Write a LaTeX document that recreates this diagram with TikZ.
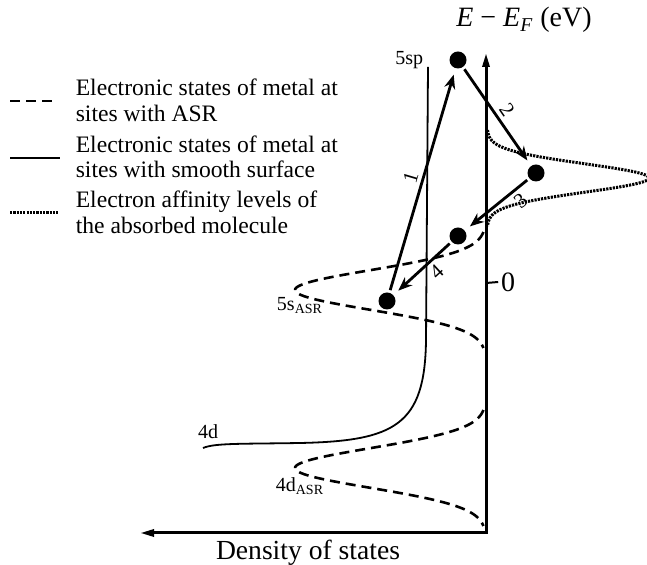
\documentclass[tikz,border=0pt]{standalone}
\usepackage{fontspec}
\setmainfont{Liberation Serif}
\usetikzlibrary{arrows.meta, positioning, calc}

\begin{document}
\begin{tikzpicture}[x=0.5pt, y=-0.5pt, >=Stealth, thick,
    dot/.style={circle, fill=black, inner sep=0pt, minimum size=8.5pt},
    trans/.style={->, line width=1.4pt, >={Stealth[length=7pt,width=5.5pt]}, shorten >=3pt, shorten <=1pt},
    asr/.style={line width=1.3pt, dash pattern=on 5pt off 3pt},
    affin/.style={line width=1.5pt, dash pattern=on 1.1pt off 0.55pt},
    smooth dos/.style={line width=0.9pt},
    legtext/.style={anchor=base west, inner sep=0pt, font=\fontsize{11.8}{14}\selectfont},
    lvl/.style={inner sep=0pt, font=\fontsize{10}{12}\selectfont},
    num/.style={inner sep=2pt, font=\fontsize{10.5}{12}\selectfont}]
  \useasboundingbox (0,0) rectangle (647,565);
        % Legend
        \draw [asr] (10,101) -- (56,101);
        \draw [smooth dos] (10,158) -- (60,158);
        \draw [affin] (10,213) -- (58,213);
        \node [legtext] (leg1) at (75,96) {Electronic states of metal at};
        \node [legtext] (leg2) at (75,122) {sites with ASR};
        \node [legtext] (leg3) at (75,153) {Electronic states of metal at};
        \node [legtext] (leg4) at (75,178) {sites with smooth surface};
        \node [legtext] (leg5) at (75,208) {Electron affinity levels of};
        \node [legtext] (leg6) at (75,234) {the absorbed molecule};
        % Axes
        \coordinate (ytip) at (486,53);
        \coordinate (orig) at (486,533);
        \coordinate (xtip) at (140,533);
        \draw [line width=1.5pt, {Triangle[length=7pt,width=3.5pt]}-{Triangle[length=7pt,width=3.5pt]}] (ytip) -- (orig) -- (xtip);
        \node [font=\fontsize{14}{16}\selectfont] (ylab) at (524,20) {\textit{E} − \textit{E}\textsubscript{\textit{F}} (eV)};
        \node [font=\fontsize{13.8}{16}\selectfont] (xlab) at (308,553) {Density of states};
        \coordinate (zero) at (486,283);
        \node [font=\fontsize{14}{16}\selectfont, inner sep=1pt] (zlab) at (508,282) {0};
        \draw [line width=1pt] (zero) -- (zlab.west);
        % Metal states at sites with ASR
        \draw [asr] plot [domain=232:348, samples=90] ({486-191*exp(-((\x-290)/28)*((\x-290)/28))}, \x);
        \draw [asr] plot [domain=410:526, samples=90] ({486-191*exp(-((\x-468)/28)*((\x-468)/28))}, \x);
        \node [lvl] (s5asr) at (300,306) {5s\textsubscript{ASR}};
        \node [lvl] (d4asr) at (300,486) {4d\textsubscript{ASR}};
        % Smooth surface states
        \draw [smooth dos] (428,67) -- (426,340) .. controls (425,425) and (395,441) .. (300,443)
              .. controls (240,444) and (215,443) .. (203,448);
        \node [lvl, anchor=east] (sp5) at (424,60) {5sp};
        \node [lvl] (d4) at (208,432) {4d};
        % Affinity level of the molecule
        \draw [affin] plot [domain=130:226, samples=90] ({487+162*exp(-((\x-178)/20)*((\x-178)/20))}, \x);
        % Electrons
        \node [dot] (etop) at (458,60) {};
        \node [dot] (emol) at (536,173) {};
        \node [dot] (emid) at (458,236) {};
        \node [dot] (ebot) at (387,301) {};
        % Transitions
        \draw [trans] (ebot) -- (etop) node [num, midway, sloped, above] {1};
        \draw [trans] (etop) -- (emol) node [num, midway, sloped, above] {2};
        \draw [trans] (emol) -- (emid) node [num, pos=0.25, sloped, below] {3};
        \draw [trans] (emid) -- (ebot) node [num, pos=0.4, sloped, below] {4};
\end{tikzpicture}
\end{document}
